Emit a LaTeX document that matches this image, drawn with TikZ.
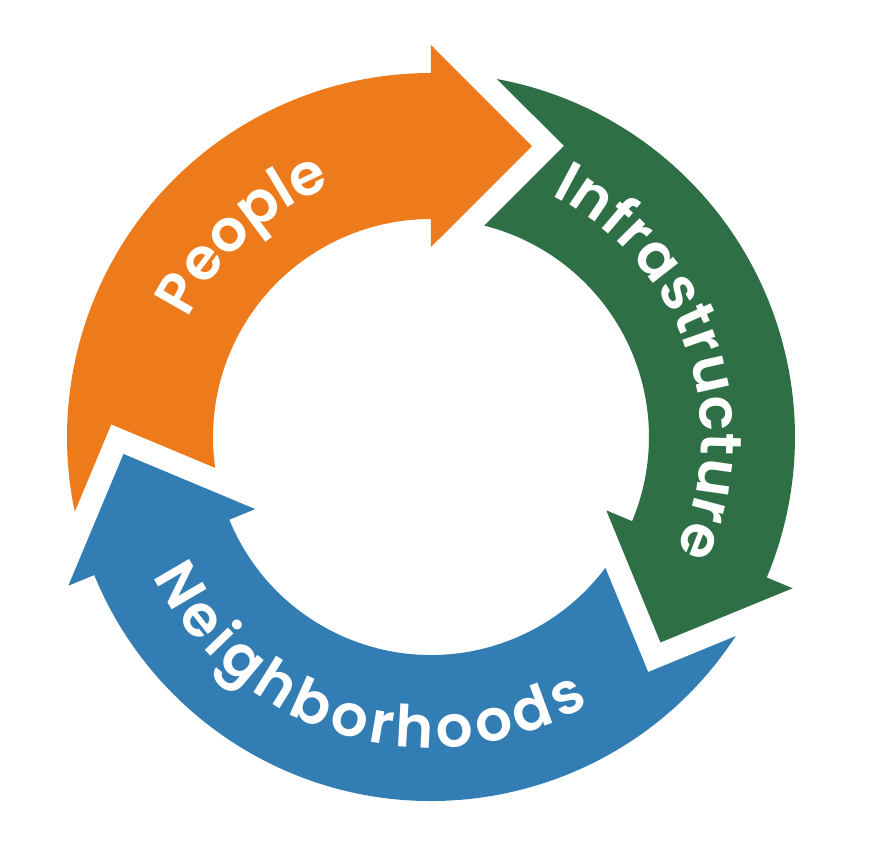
\documentclass[tikz,border=0pt]{standalone}
\usepackage{fontspec}
\usetikzlibrary{decorations.text}
\newfontfamily\labelfont{Poppins}[UprightFont={* SemiBold}]
\definecolor{peoplecol}{HTML}{EE7B1B}
\definecolor{infracol}{HTML}{2E6F45}
\definecolor{hoodcol}{HTML}{337DB5}
\begin{document}
\begin{tikzpicture}[x=1pt,y=1pt,
    ringtext/.style={decorate,decoration={text along path,text align=fit to path,
      text={|\color{white}\labelfont\fontsize{58}{66}\selectfont|#1}}}]
      \useasboundingbox (-431,-423) rectangle (461,437);
      % each arrow: notch after the previous head, arc band, straight head
      \foreach \from/\to/\col in {202.3/90/peoplecol,90/-22.7/infracol,-22.7/-157.7/hoodcol}
        \fill[\col] (\from-10.45:364) arc[start angle=\from-10.45,end angle=\to,radius=364]
          -- (\to:392) -- (\to-19.14:308) -- (\to:190) -- (\to:218)
          arc[start angle=\to,end angle=\from-14.17,radius=218] -- (\from-24.56:320) -- cycle;
      \path[ringtext=People] (154:270) arc[start angle=154,end angle=112.5,radius=270];
      \path[ringtext=Infrastructure] (63.5:270) arc[start angle=63.5,end angle=-25,radius=270];
      \path[ringtext=Neighborhoods] (206.5:311) arc[start angle=206.5,end angle=300.5,radius=311];
    \end{tikzpicture}
\end{document}
